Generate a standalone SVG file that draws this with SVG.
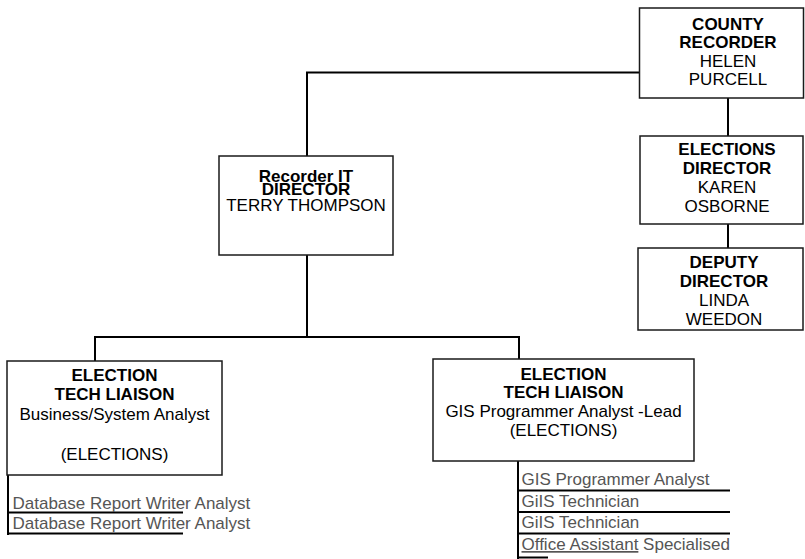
<svg xmlns="http://www.w3.org/2000/svg" width="805" height="559" viewBox="0 0 805 559">
<style>
.box{fill:#fff;stroke:#1a1a1a;stroke-width:1.5}
.t{font-family:"Liberation Sans",Arial,sans-serif;font-size:17px;fill:#000;text-anchor:middle}
.b{font-weight:bold}
.s{font-family:"Liberation Sans",Arial,sans-serif;font-size:17px;fill:#555}
.c{fill:none;stroke:#000;stroke-width:2}
</style>
<rect width="805" height="559" fill="#fff"/>
<g id="connectors">
<path class="c" d="M639 72.5H307V156"/>
<path class="c" d="M728 98V136M728 224V248"/>
<path class="c" d="M307 255V337M95 361V337H519V359"/>
<path class="c" d="M8 475V535M8 512.5H183M8 533.5H183"/>
<path class="c" d="M518 461V559M518 490.5H730M518 512H730M518 533.5H730M518 557.5H548"/>
</g>
<g id="county-recorder">
<rect class="box" x="639.5" y="8" width="164" height="90"/>
<text class="t b" x="728" y="29.5">COUNTY</text>
<text class="t b" x="728" y="48">RECORDER</text>
<text class="t" x="728" y="66.5">HELEN</text>
<text class="t" x="728" y="85">PURCELL</text>
</g>
<g id="elections-director">
<rect class="box" x="640" y="136" width="163" height="88"/>
<text class="t b" x="727" y="155">ELECTIONS</text>
<text class="t b" x="727" y="174">DIRECTOR</text>
<text class="t" x="727" y="193">KAREN</text>
<text class="t" x="727" y="212">OSBORNE</text>
</g>
<g id="deputy-director">
<rect class="box" x="638" y="248" width="165" height="82"/>
<text class="t b" x="724" y="268">DEPUTY</text>
<text class="t b" x="724" y="287">DIRECTOR</text>
<text class="t" x="724" y="306">LINDA</text>
<text class="t" x="724" y="325">WEEDON</text>
</g>
<g id="it-director">
<rect class="box" x="219" y="156" width="174" height="99"/>
<text class="t b" x="306" y="182">Recorder IT</text>
<text class="t b" x="306" y="195">DIRECTOR</text>
<text class="t" x="306" y="211">TERRY THOMPSON</text>
</g>
<g id="liaison-left">
<rect class="box" x="7" y="361" width="215" height="114"/>
<text class="t b" x="114.5" y="380.5">ELECTION</text>
<text class="t b" x="114.5" y="400">TECH LIAISON</text>
<text class="t" x="114.5" y="420">Business/System Analyst</text>
<text class="t" x="114.5" y="460">(ELECTIONS)</text>
</g>
<g id="liaison-right">
<rect class="box" x="433" y="359" width="261" height="102"/>
<text class="t b" x="563.5" y="380">ELECTION</text>
<text class="t b" x="563.5" y="397.5">TECH LIAISON</text>
<text class="t" x="563.5" y="417">GIS Programmer Analyst -Lead</text>
<text class="t" x="563.5" y="436">(ELECTIONS)</text>
</g>
<g id="left-staff">
<text class="s" x="12.5" y="508.5">Database Report Writer Analyst</text>
<text class="s" x="12.5" y="529">Database Report Writer Analyst</text>
</g>
<g id="right-staff">
<text class="s" x="521.5" y="485">GIS Programmer Analyst</text>
<text class="s" x="521.5" y="506.5">GiIS Technician</text>
<text class="s" x="521.5" y="527.5">GiIS Technician</text>
<text class="s" x="521.5" y="550"><tspan text-decoration="underline">Office Assistant</tspan> Specialised</text>
</g>
</svg>
